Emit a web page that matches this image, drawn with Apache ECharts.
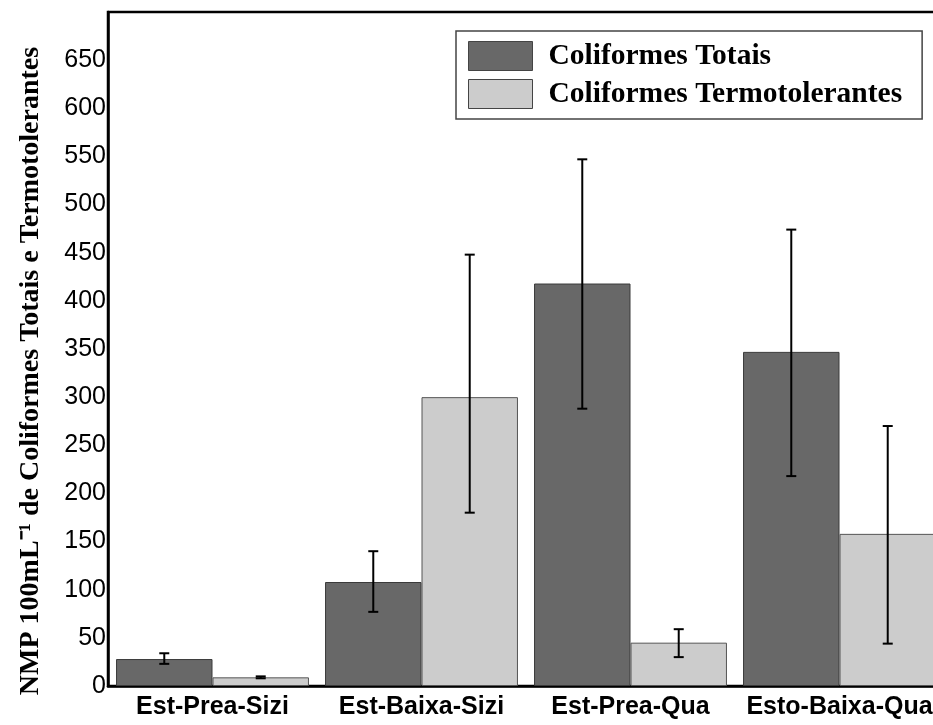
<!DOCTYPE html>
<html>
<head>
<meta charset="utf-8">
<script src="https://cdn.jsdelivr.net/npm/echarts@6/dist/echarts.min.js"></script>
<style>
  html, body { margin: 0; padding: 0; background: #fff; overflow: hidden; }
  /* the plot area runs past the right edge of the page */
  #chart { width: 950px; height: 725px; }
</style>
</head>
<body>
<div id="chart"></div>
<script>
// Sampling stations
const categories = ['Est-Prea-Sizi', 'Est-Baixa-Sizi', 'Est-Prea-Qua', 'Esto-Baixa-Qua'];

// Mean MPN per 100 mL and error bar ends
const totais = [28, 108, 418, 347];
const totaisLow = [23, 77, 288, 218];
const totaisHigh = [34, 140, 547, 474];

const termo = [9, 300, 45, 158];
const termoLow = [8, 180, 30, 44];
const termoHigh = [10, 448, 59, 270];

// Y axis ticks
const yMin = 0;
const yMax = 700;
const yStep = 50;

const seriesNames = ['Coliformes Totais', 'Coliformes Termotolerantes'];
const categoryGap = 0.077;

function errorSeries(low, high, side) {
  return {
    type: 'custom',
    z: 5,
    silent: true,
    data: categories.map((c, i) => [i, low[i], high[i]]),
    renderItem: function (params, api) {
      const band = api.size([1, 0])[0];
      const barW = band * (1 - categoryGap) / 2;
      const cx = api.coord([api.value(0), 0])[0] + side * barW / 2;
      const yLo = api.coord([api.value(0), api.value(1)])[1];
      const yHi = api.coord([api.value(0), api.value(2)])[1];
      const cap = 5;
      const style = { stroke: '#000', lineWidth: 2 };
      return {
        type: 'group',
        children: [
          { type: 'line', shape: { x1: cx, y1: yLo, x2: cx, y2: yHi }, style: style },
          { type: 'line', shape: { x1: cx - cap, y1: yHi, x2: cx + cap, y2: yHi }, style: style },
          { type: 'line', shape: { x1: cx - cap, y1: yLo, x2: cx + cap, y2: yLo }, style: style }
        ]
      };
    }
  };
}

const chart = echarts.init(document.getElementById('chart'));
chart.setOption({
  animation: false,
  backgroundColor: '#fff',
  grid: {
    left: 108, top: 12, width: 836, bottom: 39,
    show: true, borderColor: '#000', borderWidth: 2.5, backgroundColor: 'transparent'
  },
  legend: {
    left: 456, top: 31,
    orient: 'vertical',
    data: seriesNames,
    icon: 'rect',
    itemWidth: 64, itemHeight: 29, itemGap: 8,
    padding: [10, 20, 10, 12],
    backgroundColor: '#fff',
    borderColor: '#444', borderWidth: 1.5,
    itemStyle: { borderColor: '#444', borderWidth: 1 },
    textStyle: {
      fontFamily: '"Liberation Serif", "Times New Roman", serif',
      fontWeight: 'bold', fontSize: 29.5, color: '#000',
      padding: [0, 0, 0, 11]
    }
  },
  graphic: [{
    type: 'text',
    x: 31, y: 371,
    rotation: Math.PI / 2,
    style: {
      text: 'NMP 100mL⁻¹ de Coliformes Totais e Termotolerantes',
      fontFamily: '"Liberation Serif", "Times New Roman", serif',
      fontWeight: 'bold', fontSize: 28, fill: '#000',
      textAlign: 'center', textVerticalAlign: 'middle'
    }
  }],
  xAxis: {
    type: 'category',
    data: categories,
    axisLine: { lineStyle: { color: '#000', width: 2.5 } },
    axisTick: { show: false },
    axisLabel: {
      margin: 9, color: '#000', fontSize: 25, fontWeight: 'bold',
      fontFamily: '"Liberation Sans", Arial, sans-serif', interval: 0
    }
  },
  yAxis: {
    type: 'value',
    min: yMin, max: yMax, interval: yStep,
    axisLine: { show: true, lineStyle: { color: '#000', width: 2.5 } },
    axisTick: { show: false },
    splitLine: { show: false },
    axisLabel: {
      margin: 2, color: '#000', fontSize: 25,
      fontFamily: '"Liberation Sans", Arial, sans-serif',
      formatter: v => (v === yMax ? '' : String(v))
    }
  },
  series: [
    {
      name: seriesNames[0], type: 'bar', data: totais,
      barGap: '0%', barCategoryGap: (categoryGap * 100) + '%',
      itemStyle: { color: '#686868', borderColor: '#3a3a3a', borderWidth: 1 }
    },
    {
      name: seriesNames[1], type: 'bar', data: termo,
      barGap: '0%', barCategoryGap: (categoryGap * 100) + '%',
      itemStyle: { color: '#cccccc', borderColor: '#555', borderWidth: 1 }
    },
    errorSeries(totaisLow, totaisHigh, -1),
    errorSeries(termoLow, termoHigh, 1)
  ]
});
</script>
</body>
</html>
